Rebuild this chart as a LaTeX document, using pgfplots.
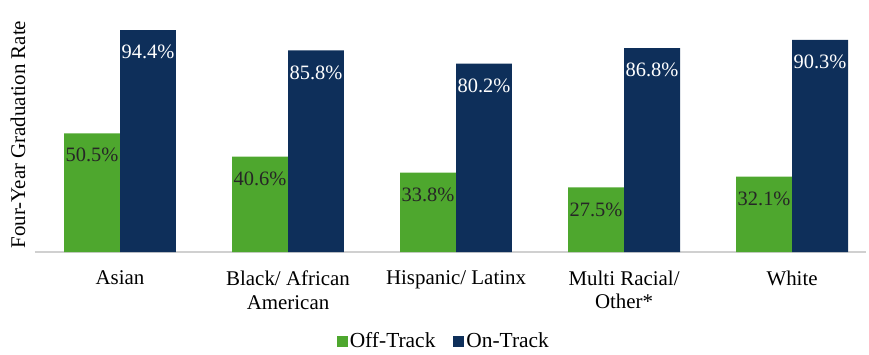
\documentclass[border=0pt]{standalone}
\usepackage{pgfplots}
\pgfplotsset{compat=1.18}
\usepackage{fontspec}
\setmainfont{Liberation Serif}
\definecolor{offgreen}{HTML}{4EA72E}
\definecolor{onnavy}{HTML}{0E2F5A}
\definecolor{axgray}{HTML}{D0D0D0}
\begin{document}
\begin{tikzpicture}
\useasboundingbox (-35bp,-103bp) rectangle (834bp,252bp);
\begin{axis}[
  scale only axis,
  width=831bp, height=235bp,
  ymin=0, ymax=100,
  xmin=-0.506, xmax=4.44,
  ybar=0pt, bar width=0.333,
  axis x line=bottom, axis y line=left,
  x axis line style={draw=axgray, line width=1.5bp, -},
  y axis line style={draw=none},
  ytick=\empty,
  xtick=data,
  xticklabels={Asian,{Black/ African\\American},{Hispanic/ Latinx},{Multi Racial/\\Other*},White},
  xtick style={draw=none}, major tick length=0pt,
  xticklabel style={align=center, font=\fontsize{21}{24}\selectfont, yshift=-15bp},
  ylabel={Four-Year Graduation Rate},
  every axis y label/.style={at={(axis description cs:-0.0205,0.5)}, rotate=90, anchor=center, font=\fontsize{21}{22}\selectfont},
  nodes near coords={\pgfmathprintnumber[fixed,fixed zerofill,precision=1,assume math mode=true]{\pgfplotspointmeta}\%},
  every node near coord/.append style={anchor=center, yshift=-22bp, font=\fontsize{20.5}{22}\selectfont},
  legend columns=2,
  legend style={at={(axis description cs:0.492,-0.379)}, anchor=center, draw=none, fill=none,
    font=\fontsize{21.5}{22}\selectfont,
    /tikz/every even column/.append style={column sep=16bp}},
  legend image code/.code={\fill[#1] (0bp,-5.5bp) rectangle (11bp,5.5bp);},
]
\addplot[fill=offgreen, draw=none, nodes near coords style={text=black!85}] coordinates {(0,50.5) (1,40.6) (2,33.8) (3,27.5) (4,32.1)};
\addplot[fill=onnavy, draw=none, nodes near coords style={text=white}] coordinates {(0,94.4) (1,85.8) (2,80.2) (3,86.8) (4,90.3)};
\legend{Off-Track, On-Track}
\end{axis}
\end{tikzpicture}
\end{document}
